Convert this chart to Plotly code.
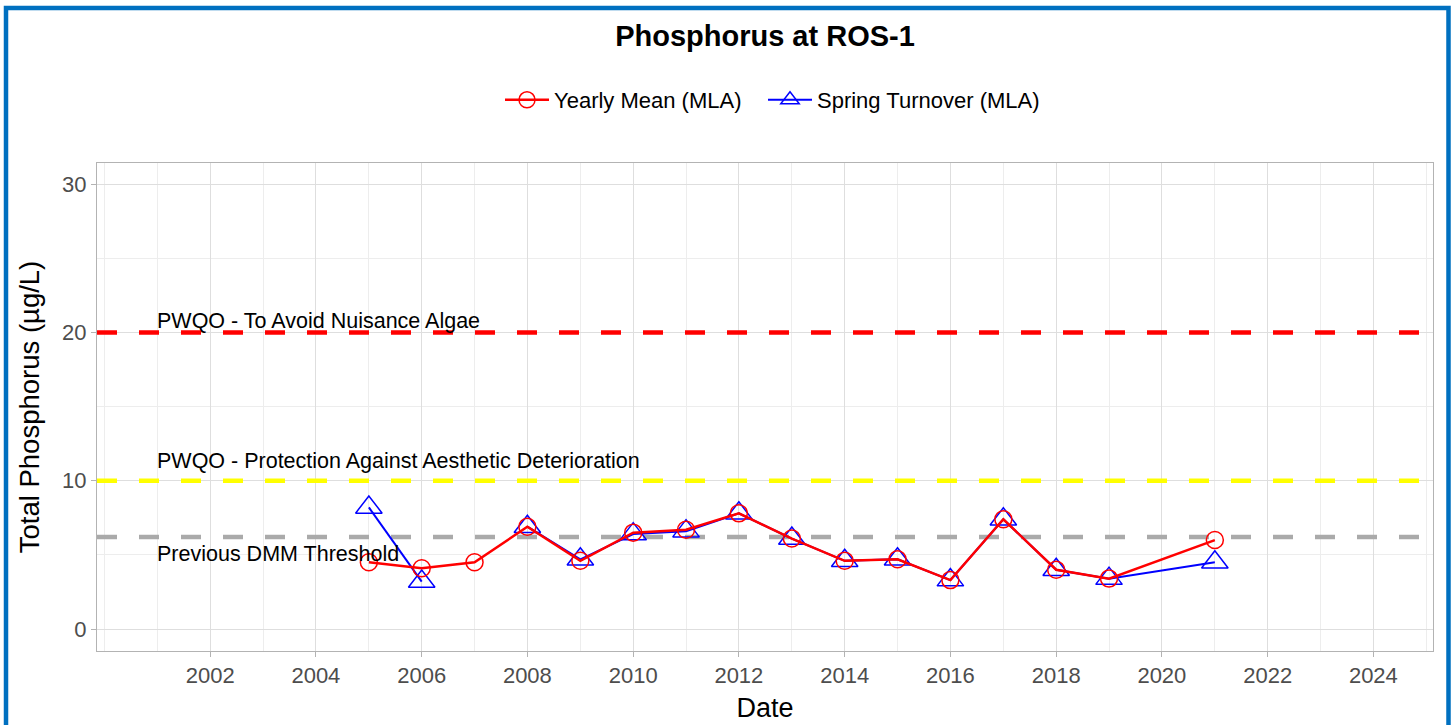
import plotly.graph_objects as go

# ---- data ----
years_mean = [2005, 2006, 2007, 2008, 2009, 2010, 2011, 2012, 2013, 2014, 2015, 2016, 2017, 2018, 2019, 2021]
yearly_mean = [4.5, 4.1, 4.5, 6.9, 4.6, 6.5, 6.7, 7.8, 6.1, 4.6, 4.7, 3.3, 7.4, 4.0, 3.4, 6.0]

years_spring = [2005, 2006, 2007, 2008, 2009, 2010, 2011, 2012, 2013, 2014, 2015, 2016, 2017, 2018, 2019, 2021]
spring_turnover = [8.2, 3.2, None, 6.9, 4.7, 6.4, 6.6, 7.8, 6.1, 4.6, 4.7, 3.3, 7.4, 4.0, 3.4, 4.5]

threshold_values = [20, 10, 6.2]
threshold_labels = ["PWQO - To Avoid Nuisance Algae",
                    "PWQO - Protection Against Aesthetic Deterioration",
                    "Previous DMM Threshold"]
threshold_colors = ["#ff0000", "#ffff00", "#aaaaaa"]
label_y = [20.8, 11.3, 5.05]
label_x = "2001-01-01"

x_range = ["1999-11-11", "2025-02-16"]
y_range = [-1.48, 31.42]
x_tick_years = [2002, 2004, 2006, 2008, 2010, 2012, 2014, 2016, 2018, 2020, 2022, 2024]
y_ticks = [0, 10, 20, 30]

FONT = "Liberation Sans, Arial, sans-serif"

def to_date(y):
    return f"{y}-01-01"

fig = go.Figure()

fig.add_trace(go.Scatter(
    x=[to_date(y) for y in years_spring], y=spring_turnover,
    mode="lines+markers", name="Spring Turnover (MLA)",
    line=dict(color="#0000ff", width=2), connectgaps=False,
    marker=dict(symbol="triangle-up-open", size=23, color="#0000ff",
                line=dict(color="#0000ff", width=1.5)),
    legend="legend2",
))
fig.add_trace(go.Scatter(
    x=[to_date(y) for y in years_mean], y=yearly_mean,
    mode="lines+markers", name="Yearly Mean (MLA)",
    line=dict(color="#ff0000", width=2.5),
    marker=dict(symbol="circle-open", size=17, color="#ff0000",
                line=dict(color="#ff0000", width=1.5)),
    legend="legend",
))

for v, c in zip(threshold_values, threshold_colors):
    fig.add_shape(type="line", xref="x", x0=x_range[0], x1=x_range[1], yref="y", y0=v, y1=v,
                  line=dict(color=c, width=4.5, dash="20px,22px"), layer="between")

for txt, yv in zip(threshold_labels, label_y):
    fig.add_annotation(x=label_x, y=yv, text=txt, showarrow=False,
                       xanchor="left", yanchor="middle", xshift=-2,
                       font=dict(family=FONT, size=21.5, color="black"))

# blue outer frame
L, R, T, B = 97, 21, 163, 74
W, H = 1454, 725
pw, ph = W - L - R, H - T - B
fig.add_shape(type="rect", xref="paper", yref="paper",
              x0=(6 - L) / pw, x1=(1448.5 - L) / pw,
              y0=(H - B - 740) / ph, y1=(H - B - 8) / ph,
              line=dict(color="#0070c0", width=4.5), fillcolor="rgba(0,0,0,0)")

legend_common = dict(orientation="h", xanchor="left", y=(H - B - 100) / ph,
                     yanchor="middle", font=dict(size=22, color="black"),
                     itemwidth=44, bgcolor="rgba(0,0,0,0)")

fig.update_layout(
    width=W, height=H, autosize=False,
    margin=dict(l=L, r=R, t=T, b=B, autoexpand=False),
    paper_bgcolor="white", plot_bgcolor="white",
    font=dict(family=FONT, color="black"),
    title=dict(text="<b>Phosphorus at ROS-1</b>", x=(765 / W), xanchor="center",
               y=1 - 36 / H, yanchor="middle", font=dict(size=29, color="black")),
    legend=dict(x=(500 - L) / pw, **legend_common),
    legend2=dict(x=(763 - L) / pw, **legend_common),
    showlegend=True,
)

fig.update_xaxes(
    type="date", range=x_range, automargin=False,
    tickvals=[to_date(y) for y in x_tick_years], ticktext=[str(y) for y in x_tick_years],
    showgrid=True, gridcolor="#dedede", gridwidth=1,
    minor=dict(dtick="M12", tick0="2000-01-01", showgrid=True, gridcolor="#ededed", gridwidth=1),
    ticks="outside", ticklen=5, tickcolor="#b3b3b3", tickwidth=1,
    tickfont=dict(size=22, color="#4d4d4d"),
    showline=True, linecolor="#b3b3b3", linewidth=1, mirror=True,
    zeroline=False,
    title=dict(text="Date", font=dict(size=27, color="black"), standoff=10),
)
fig.update_yaxes(
    range=y_range, tickvals=y_ticks, automargin=False,
    showgrid=True, gridcolor="#dedede", gridwidth=1,
    minor=dict(tickvals=[5, 15, 25], showgrid=True, gridcolor="#ededed", gridwidth=1),
    ticks="outside", ticklen=5, tickcolor="#b3b3b3", tickwidth=1,
    tickfont=dict(size=22, color="#4d4d4d"),
    showline=True, linecolor="#b3b3b3", linewidth=1, mirror=True,
    zeroline=False,
    title=dict(text="Total Phosphorus (µg/L)", font=dict(size=27.5, color="black"), standoff=14),
)

fig.write_html("out.html", config={"displayModeBar": False},
               post_script="document.body.style.margin='0px';")
